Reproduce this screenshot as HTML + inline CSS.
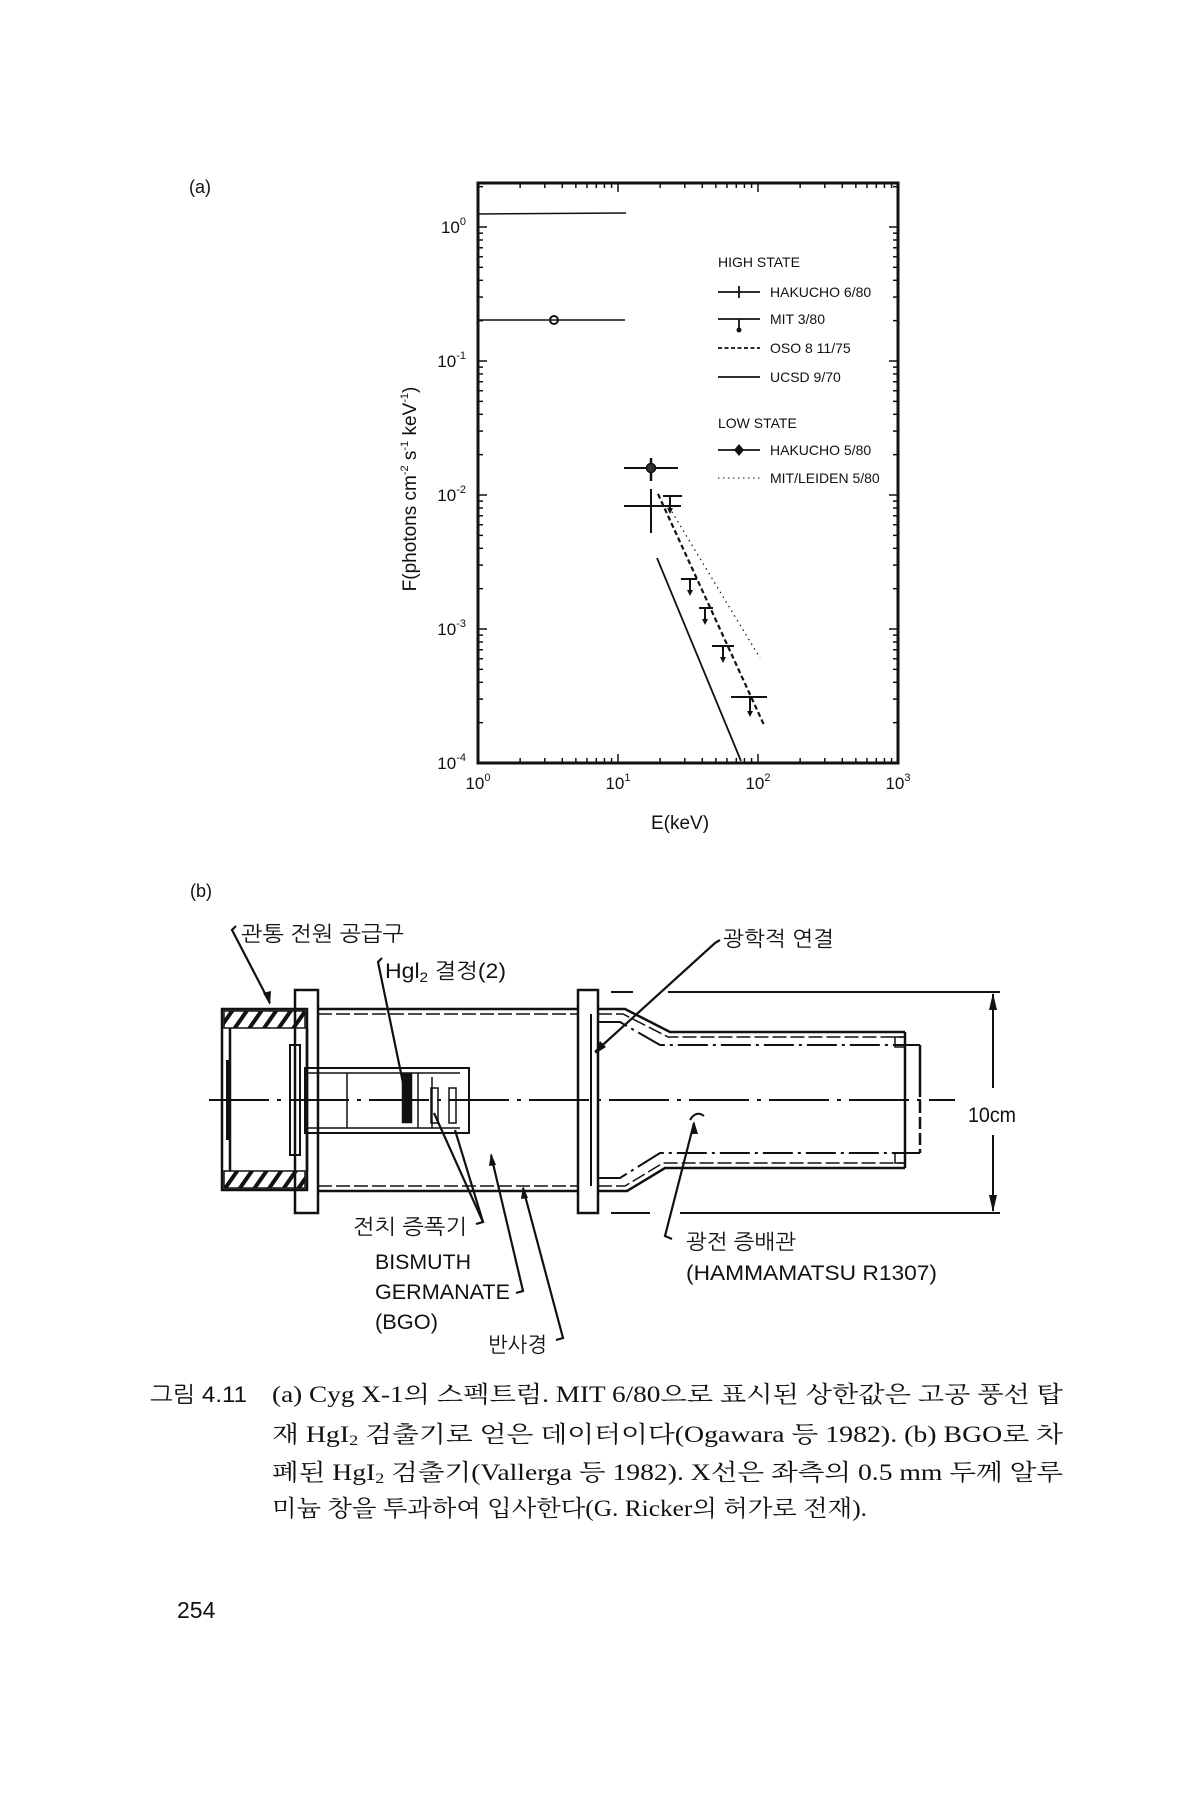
<!DOCTYPE html>
<html><head><meta charset="utf-8">
<style>
html,body{margin:0;padding:0;background:#fff;}
svg{display:block;}
.s{font-family:"Liberation Sans","Noto Sans CJK KR",sans-serif;fill:#111;}
.k{font-family:"Liberation Sans","NanumGothic","Noto Sans CJK KR",sans-serif;fill:#111;}
.r{font-family:"Liberation Serif","Noto Serif CJK SC","Noto Sans CJK KR",serif;fill:#111;}
</style></head>
<body>
<svg id="sv" width="1200" height="1800" viewBox="0 0 1200 1800" xmlns="http://www.w3.org/2000/svg">
<rect width="1200" height="1800" fill="#fff"/>
<text class="s" x="189" y="193" font-size="18">(a)</text>
<rect x="478" y="183" width="420" height="580" fill="none" stroke="#111" stroke-width="3"/>
<g id="ticks" stroke="#111" stroke-width="1.5"></g>
<g class="s" font-size="17" text-anchor="end">
<text x="466" y="233">10<tspan font-size="11" dy="-8">0</tspan></text>
<text x="466" y="367">10<tspan font-size="11" dy="-8">-1</tspan></text>
<text x="466" y="501">10<tspan font-size="11" dy="-8">-2</tspan></text>
<text x="466" y="635">10<tspan font-size="11" dy="-8">-3</tspan></text>
<text x="466" y="769">10<tspan font-size="11" dy="-8">-4</tspan></text>
</g>
<g class="s" font-size="17" text-anchor="middle">
<text x="478" y="789">10<tspan font-size="11" dy="-8">0</tspan></text>
<text x="618" y="789">10<tspan font-size="11" dy="-8">1</tspan></text>
<text x="758" y="789">10<tspan font-size="11" dy="-8">2</tspan></text>
<text x="898" y="789">10<tspan font-size="11" dy="-8">3</tspan></text>
<text x="680" y="829" font-size="19">E(keV)</text>
</g>
<text class="s" font-size="19" text-anchor="middle" transform="translate(416,489) rotate(-90)">F(photons cm<tspan font-size="11" dy="-8">-2</tspan><tspan dy="8"> s</tspan><tspan font-size="11" dy="-8">-1</tspan><tspan dy="8"> keV</tspan><tspan font-size="11" dy="-8">-1</tspan><tspan dy="8">)</tspan></text>
<g stroke="#111" fill="none">
<line x1="478" y1="214" x2="626" y2="213" stroke-width="1.5"/>
<line x1="478" y1="320" x2="625" y2="320" stroke-width="1.5"/>
<circle cx="554" cy="320" r="4" stroke-width="2"/>
<line x1="657" y1="558" x2="741" y2="761" stroke-width="1.8"/>
<line x1="658" y1="494" x2="764" y2="725" stroke-width="2.2" stroke-dasharray="5,3"/>
<line x1="669" y1="507" x2="760" y2="658" stroke-width="1.2" stroke-dasharray="1.5,4"/>
<line x1="624" y1="468" x2="678" y2="468" stroke-width="2"/>
<line x1="651" y1="458" x2="651" y2="481" stroke-width="2.5"/>
<circle cx="651" cy="468" r="4.5" fill="#333" stroke-width="1.5"/>
<line x1="624" y1="506" x2="681" y2="506" stroke-width="2"/>
<line x1="651" y1="489" x2="651" y2="533" stroke-width="2"/>
<g stroke-width="2">
<line x1="663" y1="496" x2="682" y2="496"/><line x1="670" y1="496" x2="670" y2="510"/>
<line x1="681" y1="579" x2="697" y2="579"/><line x1="690" y1="579" x2="690" y2="592"/>
<line x1="699" y1="608" x2="713" y2="608"/><line x1="705" y1="608" x2="705" y2="621"/>
<line x1="712" y1="646" x2="734" y2="646"/><line x1="723" y1="646" x2="723" y2="659"/>
<line x1="731" y1="697" x2="767" y2="697"/><line x1="750" y1="697" x2="750" y2="713"/>
</g>
<g fill="#111" stroke="none">
<path d="M667,508 L673,508 L670,514Z"/><path d="M687,590 L693,590 L690,596Z"/>
<path d="M702,619 L708,619 L705,625Z"/><path d="M720,657 L726,657 L723,663Z"/>
<path d="M747,711 L753,711 L750,717Z"/>
</g>
</g>
<g class="s" font-size="14">
<text x="718" y="267">HIGH STATE</text>
<text x="770" y="297">HAKUCHO 6/80</text>
<text x="770" y="324">MIT 3/80</text>
<text x="770" y="353">OSO 8 11/75</text>
<text x="770" y="382">UCSD 9/70</text>
<text x="718" y="428">LOW STATE</text>
<text x="770" y="455">HAKUCHO 5/80</text>
<text x="770" y="483">MIT/LEIDEN 5/80</text>
</g>
<g stroke="#111" fill="none" stroke-width="1.8">
<line x1="718" y1="292" x2="760" y2="292"/><line x1="739" y1="286" x2="739" y2="298"/>
<line x1="718" y1="319" x2="760" y2="319"/><line x1="739" y1="319" x2="739" y2="328"/>
<line x1="718" y1="348" x2="760" y2="348" stroke-dasharray="4,2.5"/>
<line x1="718" y1="377" x2="760" y2="377"/>
<line x1="718" y1="450" x2="760" y2="450"/>
<line x1="718" y1="478" x2="760" y2="478" stroke-width="1" stroke-dasharray="1.5,3.5"/>
</g>
<circle cx="739" cy="330" r="2.5" fill="#111"/>
<path d="M739,444 L744,450 L739,456 L734,450Z" fill="#111"/>

<text class="s" x="190" y="897" font-size="18">(b)</text>
<defs>
<pattern id="h" width="12" height="12" patternUnits="userSpaceOnUse" patternTransform="rotate(35)">
<rect width="12" height="12" fill="#fff"/><rect width="4" height="12" fill="#111"/>
</pattern>
</defs>
<g stroke="#111" fill="none" stroke-width="2.5">
<rect x="222" y="1009" width="85" height="181"/>
<rect x="224" y="1011" width="81" height="17" fill="url(#h)" stroke-width="1.5"/>
<rect x="224" y="1171" width="81" height="17" fill="url(#h)" stroke-width="1.5"/>
<line x1="230" y1="1028" x2="230" y2="1171"/>
<line x1="228" y1="1060" x2="228" y2="1140" stroke-width="4"/>
<rect x="290" y="1045" width="10" height="110" stroke-width="2"/>
<rect x="295" y="990" width="23" height="223"/>
<line x1="307" y1="1028" x2="307" y2="1171"/>
<line x1="318" y1="1009" x2="578" y2="1009"/>
<line x1="318" y1="1014" x2="578" y2="1014" stroke-width="1.5" stroke-dasharray="14,4"/>
<line x1="318" y1="1191" x2="578" y2="1191"/>
<line x1="318" y1="1186" x2="578" y2="1186" stroke-width="1.5" stroke-dasharray="14,4"/>
<rect x="578" y="990" width="20" height="223"/>
<line x1="591" y1="1014" x2="591" y2="1186" stroke-width="2"/>
<polyline points="598,1009 625,1009 670,1032 905,1032"/>
<polyline points="598,1014 623,1014 668,1037 905,1037" stroke-width="1.5" stroke-dasharray="14,4"/>
<polyline points="598,1022 620,1022 660,1045 920,1045" stroke-width="2" stroke-dasharray="30,5,3,5"/>
<polyline points="598,1191 627,1191 665,1168 905,1168"/>
<polyline points="598,1186 625,1186 663,1163 905,1163" stroke-width="1.5" stroke-dasharray="14,4"/>
<polyline points="598,1178 620,1178 660,1153 920,1153" stroke-width="2" stroke-dasharray="30,5,3,5"/>
<line x1="905" y1="1032" x2="905" y2="1168"/>
<rect x="895" y="1037" width="10" height="10" stroke-width="1.5"/>
<rect x="895" y="1153" width="10" height="10" stroke-width="1.5"/>
<line x1="920" y1="1045" x2="920" y2="1085"/>
<line x1="920" y1="1085" x2="920" y2="1153" stroke-dasharray="12,4"/>
<rect x="305" y="1068" width="164" height="65" stroke-width="2"/>
<line x1="305" y1="1073" x2="460" y2="1073" stroke-width="1.5"/>
<line x1="305" y1="1128" x2="460" y2="1128" stroke-width="1.5"/>
<line x1="347" y1="1073" x2="347" y2="1128" stroke-width="1.5"/>
<rect x="403" y="1074" width="8" height="48" fill="#111"/>
<line x1="418" y1="1073" x2="418" y2="1128" stroke-width="1.5"/>
<line x1="432" y1="1077" x2="432" y2="1128" stroke-width="1.5"/>
<rect x="431" y="1088" width="7" height="35" stroke-width="1.5"/>
<rect x="449" y="1088" width="7" height="35" stroke-width="1.5"/>
<line x1="209" y1="1100" x2="955" y2="1100" stroke-width="2" stroke-dasharray="60,8,4,8"/>
<line x1="611" y1="992" x2="633" y2="992" stroke-width="2"/>
<line x1="668" y1="992" x2="1000" y2="992" stroke-width="2"/>
<line x1="611" y1="1213" x2="650" y2="1213" stroke-width="2"/>
<line x1="680" y1="1213" x2="1000" y2="1213" stroke-width="2"/>
<line x1="993" y1="994" x2="993" y2="1088" stroke-width="2"/>
<line x1="993" y1="1135" x2="993" y2="1211" stroke-width="2"/>
</g>
<g fill="#111">
<path d="M993,993 L989,1010 L997,1010Z"/><path d="M993,1212 L989,1195 L997,1195Z"/>
</g>
<g stroke="#111" fill="none" stroke-width="2.2">
<polyline points="236,926 232,930 270,1003"/>
<polyline points="382,958 378,962 408,1107"/>
<polyline points="720,940 715,943 595,1052"/>
<polyline points="476,1224 483,1222 434,1113"/>
<line x1="483" y1="1222" x2="455" y2="1130"/>
<polyline points="516,1293 523,1291 491,1155"/>
<polyline points="556,1340 563,1338 523,1188"/>
<polyline points="672,1239 665,1236 694,1123"/>
</g>
<g fill="#111">
<path d="M270,1005 L263,993 L271,991Z"/>
<path d="M595,1054 L600,1041 L606,1047Z"/>
<path d="M491,1153 L489,1166 L496,1165Z"/>
<path d="M523,1186 L521,1199 L528,1198Z"/>
<path d="M694,1121 L691,1134 L698,1134Z"/>
</g>
<path d="M690,1120 Q696,1110 704,1116" stroke="#111" fill="none" stroke-width="2"/>
<g class="k" font-size="21">
<text x="241" y="941" textLength="163" lengthAdjust="spacingAndGlyphs">관통 전원 공급구</text>
<text x="385" y="978" textLength="121" lengthAdjust="spacingAndGlyphs">Hgl<tspan font-size="14" dy="4">2</tspan><tspan dy="-4"> 결정(2)</tspan></text>
<text x="723" y="946" textLength="111" lengthAdjust="spacingAndGlyphs">광학적 연결</text>
<text x="353" y="1234" textLength="114" lengthAdjust="spacingAndGlyphs">전치 증폭기</text>
<text x="375" y="1269" textLength="96" lengthAdjust="spacingAndGlyphs">BISMUTH</text>
<text x="375" y="1299" textLength="135" lengthAdjust="spacingAndGlyphs">GERMANATE</text>
<text x="375" y="1329" textLength="63" lengthAdjust="spacingAndGlyphs">(BGO)</text>
<text x="488" y="1352" textLength="59" lengthAdjust="spacingAndGlyphs">반사경</text>
<text x="686" y="1249" textLength="110" lengthAdjust="spacingAndGlyphs">광전 증배관</text>
<text x="686" y="1280" textLength="251" lengthAdjust="spacingAndGlyphs">(HAMMAMATSU R1307)</text>
<text x="968" y="1122" textLength="48" lengthAdjust="spacingAndGlyphs">10cm</text>
</g>
<g class="r" font-size="23">
<text x="150" y="1402" class="k" font-size="22" textLength="97" lengthAdjust="spacingAndGlyphs">그림 4.11</text>
<text x="272" y="1402" textLength="791" lengthAdjust="spacingAndGlyphs">(a) Cyg X-1의 스펙트럼. MIT 6/80으로 표시된 상한값은 고공 풍선 탑</text>
<text x="272" y="1442" textLength="791" lengthAdjust="spacingAndGlyphs">재 HgI<tspan font-size="15" dy="3">2</tspan><tspan dy="-3"> 검출기로 얻은 데이터이다(Ogawara 등 1982). (b) BGO로 차</tspan></text>
<text x="272" y="1480" textLength="791" lengthAdjust="spacingAndGlyphs">폐된 HgI<tspan font-size="15" dy="3">2</tspan><tspan dy="-3"> 검출기(Vallerga 등 1982). X선은 좌측의 0.5 mm 두께 알루</tspan></text>
<text x="272" y="1516" textLength="595" lengthAdjust="spacingAndGlyphs">미늄 창을 투과하여 입사한다(G. Ricker의 허가로 전재).</text>
<text x="177" y="1618" class="k" font-size="23">254</text>
</g>
</svg>
<script>
(function(){
var g=document.getElementById('ticks'),s='';
function L(a,b,c,d){s+='<line x1="'+a+'" y1="'+b+'" x2="'+c+'" y2="'+d+'"/>';}
var L0=478,R=898,T=183,B=763;
for(var d=-1;d<4;d++){for(var m=1;m<10;m++){var y=227+134*(d+1)-Math.log10(m)*134;var len=(m==1)?9:5;if(y>T+1&&y<B-1){L(L0,y,L0+len,y);L(R,y,R-len,y);}}}
for(var d=0;d<3;d++){for(var m=1;m<10;m++){var x=478+140*d+Math.log10(m)*140;var len=(m==1)?9:5;if(x>L0+1&&x<R-1){L(x,B,x,B-len);L(x,T,x,T+len);}}}
g.innerHTML=s;
})();
</script>
</body></html>
